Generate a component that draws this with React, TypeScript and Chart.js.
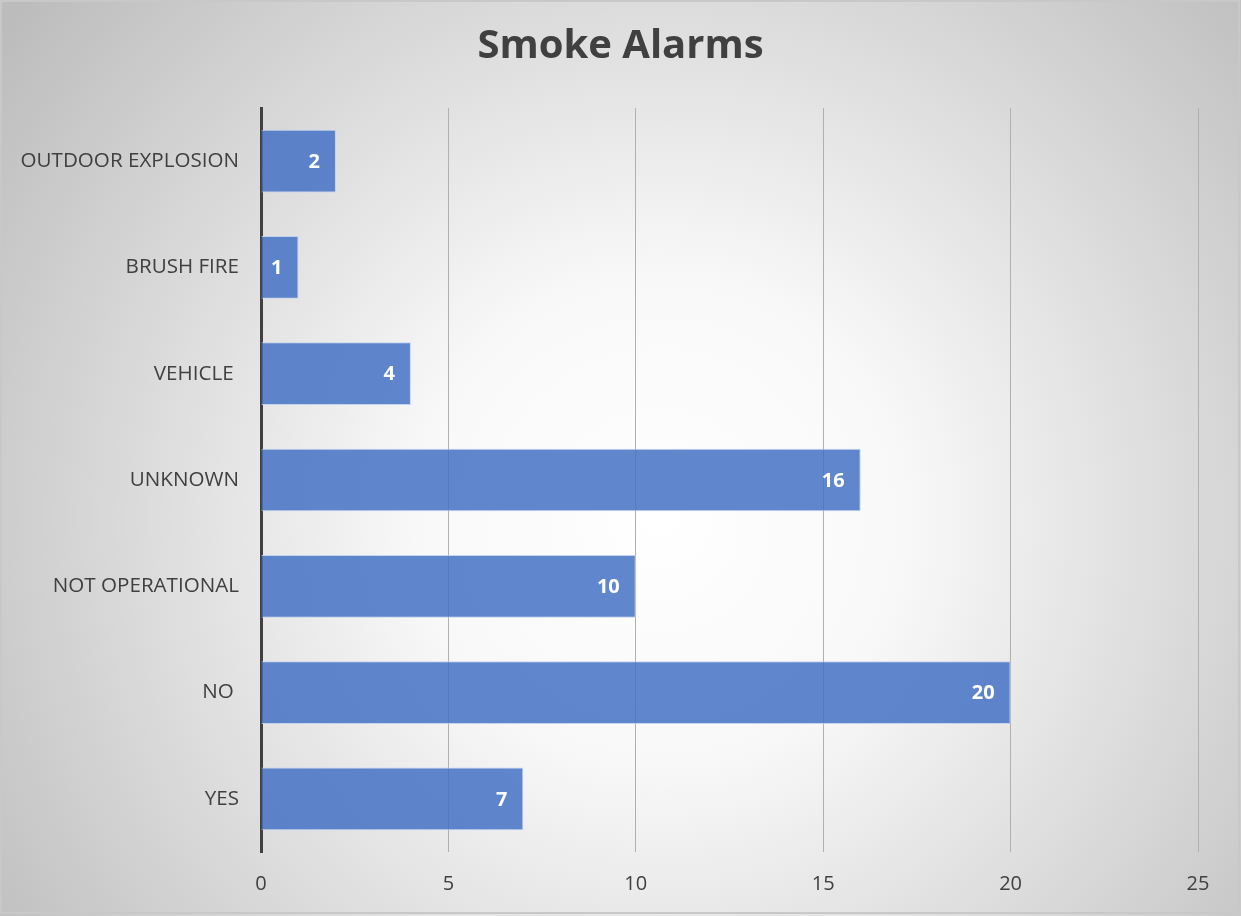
import React, { useEffect, useRef } from "react";
import { Chart, registerables } from "chart.js";

Chart.register(...registerables);

const categories = ["OUTDOOR EXPLOSION", "BRUSH FIRE", "VEHICLE ", "UNKNOWN", "NOT OPERATIONAL", "NO ", "YES"];
const values = [2, 1, 4, 16, 10, 20, 7];
const titleText = "Smoke Alarms";
const xMin = 0;
const xMax = 25;
const xStep = 5;

const FONT = "'Open Sans', 'Noto Sans', sans-serif";
const TEXT = "#404040";

const bgPlugin = {
  id: "bgGradient",
  beforeDraw(chart: any) {
    const { ctx, width, height } = chart;
    ctx.save();
    const g = ctx.createRadialGradient(660, 520, 0, 660, 520, 820);
    g.addColorStop(0, "#ffffff");
    g.addColorStop(0.3, "#f8f8f8");
    g.addColorStop(1, "#bcbcbc");
    ctx.fillStyle = g;
    ctx.fillRect(0, 0, width, height);
    ctx.strokeStyle = "#c8c8c8";
    ctx.lineWidth = 2;
    ctx.strokeRect(1, 1, width - 3, height - 4);
    ctx.fillStyle = TEXT;
    ctx.font = `bold 40px ${FONT}`;
    ctx.textAlign = "center";
    ctx.textBaseline = "middle";
    ctx.fillText(titleText, width / 2, 47);
    ctx.restore();
  },
};

const labelPlugin = {
  id: "barLabels",
  afterDatasetsDraw(chart: any) {
    const { ctx } = chart;
    const meta = chart.getDatasetMeta(0);
    ctx.save();
    ctx.fillStyle = "#ffffff";
    ctx.font = `bold 20px ${FONT}`;
    ctx.textAlign = "right";
    ctx.textBaseline = "middle";
    meta.data.forEach((bar: any, i: number) => {
      ctx.fillText(String(values[i]), bar.x - 16, bar.y + 1);
    });
    ctx.restore();
  },
};

export default function App() {
  const ref = useRef<HTMLCanvasElement>(null);
  useEffect(() => {
    document.body.style.margin = "0";
    const chart = new Chart(ref.current!, {
      type: "bar",
      data: {
        labels: categories,
        datasets: [
          {
            data: values,
            backgroundColor: "rgba(68,114,196,0.85)",
            borderColor: "rgba(190,208,240,0.9)",
            borderWidth: 1,
            barPercentage: 0.59,
            categoryPercentage: 1,
          },
        ],
      },
      options: {
        indexAxis: "y",
        animation: false,
        responsive: false,
        layout: { padding: { left: 0, right: 43, top: 108, bottom: 0 } },
        plugins: {
          legend: { display: false },
          tooltip: { enabled: false },
          title: { display: false },
        },
        scales: {
          x: {
            min: xMin,
            max: xMax,
            ticks: {
              stepSize: xStep,
              color: TEXT,
              font: { family: FONT, size: 20 },
              padding: 20,
            },
            grid: {
              drawTicks: false,
              color: (c: any) => (c.tick && c.tick.value === 0 ? "rgba(0,0,0,0)" : "#b0b0b0"),
              lineWidth: 1,
            },
            border: { display: false },
            afterFit: (s: any) => {
              s.height = 64;
            },
          },
          y: {
            ticks: {
              color: TEXT,
              font: { family: FONT, size: 20.6 },
              padding: 22,
            },
            grid: { display: false, drawTicks: false },
            border: { display: true, color: "#404040", width: 3 },
            afterFit: (s: any) => {
              s.width = 261;
            },
          },
        },
      },
      plugins: [bgPlugin, labelPlugin],
    });
    return () => chart.destroy();
  }, []);
  return <canvas ref={ref} width={1241} height={916} style={{ display: "block" }} />;
}
